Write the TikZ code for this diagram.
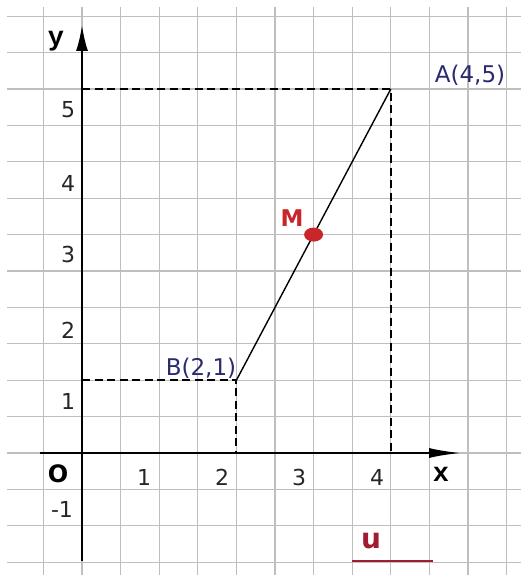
\documentclass[tikz,border=0pt]{standalone}
\usepackage{fontspec}
\setmainfont{DejaVu Sans}
\newfontfamily\monofnt{Liberation Mono}
\usetikzlibrary{arrows.meta}
\definecolor{gridgray}{HTML}{BEBEBE}
\definecolor{navy}{HTML}{2A2A70}
\definecolor{mred}{HTML}{C8262A}
\definecolor{ured}{HTML}{A01C32}
\tikzset{
  gridline/.style={gridgray, line width=1.2pt},
  axisline/.style={black, line width=2.2pt},
  guide/.style={black, line width=2pt, dash pattern=on 8pt off 4.5pt},
  seg/.style={black, line width=1.4pt},
  num/.style={font=\fontsize{22}{24}\selectfont, text=black!85, inner sep=0pt},
  ptlabel/.style={font=\fontsize{23}{26}\selectfont, text=navy, inner sep=0pt},
  axlabel/.style={font=\monofnt\bfseries\fontsize{27}{28}\selectfont, inner sep=0pt},
}
\begin{document}
\begin{tikzpicture}[x=1pt,y=-1pt]
\useasboundingbox (0,0) rectangle (526,575);
\fill[white] (0,0) rectangle (526,575);
% grid
\foreach \k in {-1,...,11} \draw[gridline] ({82+\k*38.6},7) -- ({82+\k*38.6},575);
\foreach \k in {-3,...,12} \draw[gridline] (7,{453-\k*36.4}) -- (521,{453-\k*36.4});
% coordinates
\coordinate (O) at (82,453);
\coordinate (A) at (390.8,89);
\coordinate (B) at (236.4,380.2);
\coordinate (M) at (313.6,234.6);
\coordinate (Ay) at (82,89);
\coordinate (Ax) at (390.8,453);
\coordinate (By) at (82,380.2);
\coordinate (Bx) at (236.4,453);
\coordinate (xs) at (40,453);
\coordinate (xe) at (461,453);
\coordinate (ys) at (82,561);
\coordinate (ye) at (82,25);
% guides
\draw[guide] (Ay) -- (A) -- (Ax);
\draw[guide] (By) -- (B) -- (Bx);
% axes
\draw[axisline, -{Latex[length=32pt,width=10pt]}] (xs) -- (xe);
\draw[axisline, -{Latex[length=26pt,width=12pt]}] (ys) -- (ye);
% segment
\draw[seg] (B) -- (A);
% point M
\fill[mred] (M) ellipse [x radius=9.5pt, y radius=7pt];
% labels
\node[axlabel] (ylab) at (56,41) {y};
\node[axlabel] (xlab) at (441,474) {x};
\node[font=\bfseries\fontsize{24}{26}\selectfont, inner sep=0pt] (olab) at (58,474) {O};
\foreach \k/\xx in {1/144,2/222,3/299,4/377} \node[num] (xn\k) at (\xx,477) {\k};
\foreach \k/\yy in {1/401,2/330,3/254,4/183,5/110} \node[num] (yn\k) at (68,\yy) {\k};
\node[num] (ym1) at (62,509) {-1};
\node[ptlabel] (Alab) at (470,75) {A(4,5)};
\node[ptlabel] (Blab) at (201,368) {B(2,1)};
\node[font=\bfseries\fontsize{23}{25}\selectfont, text=mred, inner sep=0pt] (Mlab) at (292,218) {M};
\node[font=\bfseries\fontsize{28}{30}\selectfont, text=ured, inner sep=0pt] (ulab) at (371,541) {u};
\coordinate (u1) at (352,561);
\coordinate (u2) at (433,561);
\draw[ured, line width=1.6pt] (u1) -- (u2);
\end{tikzpicture}
\end{document}
